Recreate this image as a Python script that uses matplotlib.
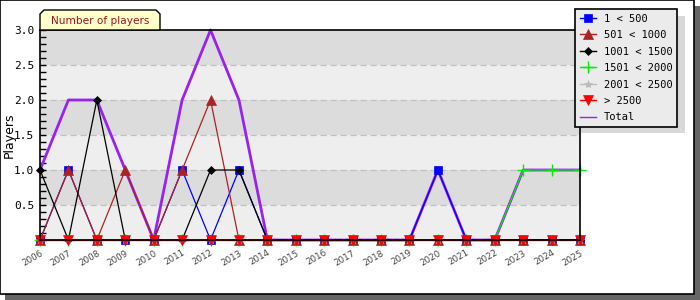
import matplotlib
matplotlib.use("Agg")
import matplotlib.pyplot as plt
from matplotlib.patches import Rectangle, Polygon
from matplotlib.lines import Line2D
import numpy as np

years = list(range(2006, 2026))
s_1_500 =     [0,1,0,0,0,1,0,1,0,0,0,0,0,0,1,0,0,0,0,0]
s_501_1000 =  [0,1,0,1,0,1,2,0,0,0,0,0,0,0,0,0,0,0,0,0]
s_1001_1500 = [1,0,2,0,0,0,1,1,0,0,0,0,0,0,0,0,0,0,0,0]
s_1501_2000 = [0,0,0,0,0,0,0,0,0,0,0,0,0,0,0,0,0,1,1,1]
s_2001_2500 = [0]*20
s_2500 =      [0]*20
total =       [1,2,2,1,0,2,3,2,0,0,0,0,0,0,1,0,0,1,1,1]

labels = ["1 < 500", "501 < 1000", "1001 < 1500", "1501 < 2000",
          "2001 < 2500", "> 2500", "Total"]
yticks = [0.5, 1.0, 1.5, 2.0, 2.5, 3.0]

W, H = 700, 300
fig = plt.figure(figsize=(7, 3), dpi=100)
fig.patch.set_facecolor("white")

def px(x, y, w, h):
    return (x / W, 1 - (y + h) / H, w / W, h / H)

# outer frame with shadow
x0, y0, w0, h0 = px(5, 6, 695, 294)
fig.patches.append(Rectangle((x0, y0), w0, h0, transform=fig.transFigure,
                             facecolor="#666666", edgecolor="none", zorder=-10))
x0, y0, w0, h0 = px(0, 0, 694, 294)
fig.patches.append(Rectangle((x0, y0), w0, h0, transform=fig.transFigure,
                             facecolor="white", edgecolor="black", lw=1.2, zorder=-9))

ax = fig.add_axes(px(40, 30, 540, 210))
ax.set_xlim(2006, 2025)
ax.set_ylim(0, 3.0)

band_colors = ["#eeeeee", "#dcdcdc"]
for i in range(6):
    ax.axhspan(i * 0.5, (i + 1) * 0.5, color=band_colors[i % 2], zorder=0, lw=0)
for y in yticks[:-1]:
    ax.axhline(y, color="#c0c0c0", lw=0.9, ls=(0, (5, 3)), zorder=0.5)

ax.plot(years, total, color="#9922ee", lw=2, zorder=2, clip_on=False)

series = [
    (s_1_500, "#0000ff", "s", 6),
    (s_501_1000, "#aa2222", "^", 7),
    (s_1001_1500, "#000000", "D", 4),
    (s_1501_2000, "#00ee00", "+", 8),
    (s_2001_2500, "#bbbbbb", "*", 6),
    (s_2500, "#ff0000", "v", 7),
]
for k, (vals, c, m, ms) in enumerate(series):
    ax.plot(years, vals, color=c, lw=0.9, marker=m, markersize=ms,
            markeredgewidth=1.0 if m == "+" else 0.5, markeredgecolor=c,
            zorder=3 + k, clip_on=False)

for s in ax.spines.values():
    s.set_color("black")
    s.set_linewidth(1.2)
    s.set_zorder(20)

ax.set_yticks(yticks)
ax.set_yticklabels([f"{v:.1f}" for v in yticks], family="DejaVu Sans Mono",
                   fontsize=8)
ax.set_yticks(np.arange(0, 3.01, 0.1), minor=True)
ax.tick_params(axis="y", which="both", direction="in", length=4, width=1,
               color="black", pad=4)
ax.set_xticks(years)
ax.set_xticklabels([str(y) for y in years], rotation=30, fontsize=6.3,
                   color="#444444", ha="right", rotation_mode="anchor")
ax.tick_params(axis="x", length=0, pad=6)
ax.set_ylabel("Players", fontsize=9)
ax.yaxis.set_label_coords(-24 / 540, 0.5)

# title tab
tx, ty, tw, th = 40, 10, 120, 20
c = 4
pts = [(tx, ty + th), (tx, ty + c), (tx + c, ty), (tx + tw - c, ty),
       (tx + tw, ty + c), (tx + tw, ty + th)]
pts = [(x / W, 1 - y / H) for x, y in pts]
fig.patches.append(Polygon(pts, closed=True, transform=fig.transFigure,
                           facecolor="#ffffcc", edgecolor="black", lw=1, zorder=1))
fig.text((tx + tw / 2) / W, 1 - (ty + th / 2 + 1) / H, "Number of players",
         ha="center", va="center", fontsize=7.6, color="#a01818")

# legend
handles = []
for vals, c, m, ms in series:
    handles.append(Line2D([], [], color=c, lw=1, marker=m, markersize=ms,
                          markeredgecolor=c, markeredgewidth=1.0 if m == "+" else 0.5))
handles.append(Line2D([], [], color="#9922ee", lw=1))

lx, ly, lw_, lh = 575, 9, 104, 117
x0, y0, w0, h0 = px(lx + 6, ly + 7, lw_, lh)
fig.patches.append(Rectangle((x0, y0), w0, h0, transform=fig.transFigure,
                             facecolor="#d8d8d8", edgecolor="none", zorder=2))
leg = fig.legend(handles, labels, loc="upper left",
                 bbox_to_anchor=(lx / W, 1 - ly / H), borderaxespad=0,
                 prop={"family": "DejaVu Sans Mono", "size": 7.5},
                 frameon=True, fancybox=False, edgecolor="black",
                 facecolor="#ebebeb", framealpha=1, handlelength=1.6,
                 handletextpad=0.7, labelspacing=0.62, borderpad=0.45)
leg.set_zorder(5)
leg.get_frame().set_linewidth(1.2)

fig.savefig("out.png", dpi=100)
